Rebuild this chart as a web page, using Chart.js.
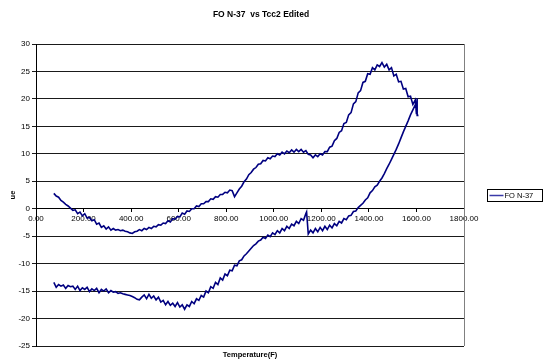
<!DOCTYPE html>
<html>
<head>
<meta charset="utf-8">
<script src="https://cdn.jsdelivr.net/npm/chart.js@4"></script>
<style>
  html, body { margin: 0; padding: 0; background: #fff; }
  #wrap { width: 544px; height: 364px; }
</style>
</head>
<body>
<div id="wrap"><canvas id="myChart" width="544" height="364"></canvas></div>
<script>
let chartTitle = 'FO N-37  vs Tcc2 Edited';
let seriesName = 'FO N-37';
let xTitle = 'Temperature(F)';
let yTitle = 'ue';

// lower branch, read left to right (step in ue at ~1137 F)
let lowerTemp = [75, 85, 95, 105, 115, 125, 135, 145, 155, 165, 175, 185, 195, 205, 215, 225, 235, 245, 255, 265,
  275, 285, 295, 305, 315, 325, 335, 345, 355, 365, 375, 385, 395, 405, 415, 425, 435, 445, 455, 465,
  475, 485, 495, 505, 515, 525, 535, 545, 555, 565, 575, 585, 595, 605, 615, 625, 635, 645, 655, 665,
  675, 685, 695, 705, 715, 725, 735, 745, 755, 765, 775, 785, 795, 805, 815, 825, 835, 845, 855, 865,
  875, 885, 895, 905, 915, 925, 935, 945, 955, 965, 975, 985, 995, 1005, 1015, 1025, 1035, 1045, 1055, 1065,
  1075, 1085, 1095, 1105, 1115, 1125, 1135, 1138, 1145, 1155, 1165, 1175, 1185, 1195, 1205, 1215, 1225, 1235, 1245, 1255,
  1265, 1275, 1285, 1295, 1305, 1315, 1325, 1335, 1345, 1355, 1365, 1375, 1385, 1395, 1405, 1415, 1425, 1435, 1445, 1455,
  1465, 1475, 1485, 1495, 1505, 1515, 1525, 1535, 1545, 1555, 1565, 1575, 1585, 1595];
let lowerUe = [-13.4, -14.3, -13.8, -14.1, -13.9, -14.5, -14.0, -14.2, -14.1, -14.7, -14.1, -14.9, -14.4, -14.7, -14.3, -15.1, -14.6, -14.9, -14.5, -15.3,
  -14.7, -15.0, -14.6, -15.3, -14.9, -15.2, -15.1, -15.4, -15.3, -15.5, -15.6, -15.7, -15.8, -16.0, -16.2, -16.5, -16.6, -16.1, -15.7, -16.4,
  -15.6, -16.3, -15.9, -16.6, -16.1, -17.0, -16.7, -17.5, -16.9, -17.6, -17.2, -17.8, -17.1, -17.9, -17.5, -18.3, -17.5, -17.8, -16.9, -17.3,
  -16.4, -16.7, -15.8, -16.1, -15.0, -15.3, -14.2, -14.5, -13.4, -13.8, -12.6, -13.0, -11.9, -12.2, -11.2, -11.3, -10.3, -10.4, -9.5, -9.3,
  -8.6, -8.2, -7.7, -7.2, -6.7, -6.4, -5.9, -5.7, -5.2, -5.4, -4.8, -5.1, -4.4, -4.7, -4.0, -4.4, -3.6, -4.0, -3.2, -3.6,
  -2.8, -3.1, -2.3, -2.7, -1.8, -2.1, -0.9, -0.6, -4.6, -3.9, -4.4, -3.6, -4.2, -3.4, -4.0, -3.2, -3.8, -3.0, -3.5, -2.7,
  -3.1, -2.3, -2.6, -1.8, -2.0, -1.3, -1.2, -0.5, -0.4, 0.2, 0.6, 1.0, 1.6, 2.0, 2.9, 3.3, 4.0, 4.3, 5.0, 5.6,
  6.4, 7.3, 8.1, 9.0, 9.9, 10.8, 11.8, 12.9, 14.0, 15.0, 16.0, 17.1, 18.0, 18.9, 19.6];

// upper branch, read right to left from the turn near 1600 F
let upperTemp = [1605, 1603, 1600, 1595, 1585, 1575, 1565, 1555, 1545, 1535, 1525, 1515, 1505, 1495, 1485, 1475, 1465, 1455, 1445, 1435,
  1425, 1415, 1405, 1395, 1385, 1375, 1365, 1355, 1345, 1335, 1325, 1315, 1305, 1295, 1285, 1275, 1265, 1255, 1245, 1235,
  1225, 1215, 1205, 1195, 1185, 1175, 1165, 1155, 1145, 1135, 1125, 1115, 1105, 1095, 1085, 1075, 1065, 1055, 1045, 1035,
  1025, 1015, 1005, 995, 985, 975, 965, 955, 945, 935, 925, 915, 905, 895, 885, 875, 865, 855, 845, 835,
  825, 815, 805, 795, 785, 775, 765, 755, 745, 735, 725, 715, 705, 695, 685, 675, 665, 655, 645, 635,
  625, 615, 605, 595, 585, 575, 565, 555, 545, 535, 525, 515, 505, 495, 485, 475, 465, 455, 445, 435,
  425, 415, 405, 395, 385, 375, 365, 355, 345, 335, 325, 315, 305, 295, 285, 275, 265, 255, 245, 235,
  225, 215, 205, 195, 185, 175, 165, 155, 145, 135, 125, 115, 105, 95, 85, 75];
let upperUe = [17.0, 20.1, 17.2, 19.8, 19.0, 20.5, 20.4, 21.9, 21.8, 23.2, 23.1, 24.5, 24.2, 25.7, 25.3, 26.3, 25.8, 26.6, 25.9, 26.2,
  25.3, 25.7, 24.5, 24.6, 23.2, 23.0, 21.5, 21.1, 19.5, 19.1, 17.5, 17.1, 15.7, 15.5, 14.2, 13.9, 12.8, 12.4, 11.4, 11.2,
  10.4, 10.4, 9.8, 10.0, 9.5, 9.8, 9.3, 9.8, 9.9, 10.6, 10.3, 10.8, 10.4, 10.8, 10.3, 10.7, 10.2, 10.5, 10.0, 10.3,
  9.8, 10.0, 9.5, 9.6, 9.1, 9.3, 8.7, 8.8, 8.2, 8.1, 7.5, 7.2, 6.6, 6.2, 5.4, 4.9, 4.1, 3.6, 2.9, 2.2,
  3.3, 3.4, 2.9, 3.0, 2.6, 2.6, 2.1, 2.2, 1.7, 1.8, 1.3, 1.3, 0.9, 0.9, 0.4, 0.5, 0.0, 0.0, -0.5, -0.4,
  -1.0, -0.8, -1.5, -1.4, -1.9, -1.8, -2.4, -2.2, -2.7, -2.6, -3.0, -2.9, -3.3, -3.2, -3.6, -3.4, -3.8, -3.6, -4.0, -3.8,
  -4.1, -4.2, -4.5, -4.4, -4.2, -4.1, -3.9, -4.0, -3.8, -3.9, -3.6, -3.9, -3.3, -3.7, -3.1, -3.4, -2.6, -2.8, -2.0, -2.2,
  -1.6, -1.7, -0.9, -1.3, -0.6, -0.9, -0.2, -0.3, 0.1, 0.5, 0.8, 1.2, 1.5, 2.1, 2.3, 2.8];

let xTicks = [0, 200, 400, 600, 800, 1000, 1200, 1400, 1600, 1800];
let yTicks = [-25, -20, -15, -10, -5, 0, 5, 10, 15, 20, 25, 30];

let points = [];
lowerTemp.forEach((t, i) => points.push({ x: t, y: lowerUe[i] }));
upperTemp.forEach((t, i) => points.push({ x: t, y: upperUe[i] }));

let lineColor = '#000080';
let fontFamily = '"Liberation Sans", Arial, sans-serif';

// title, bottom axis title, boxed legend and the grey right edge of the plot
let excelDecor = {
  id: 'excelDecor',
  beforeDatasetsDraw(chart) {
    let { ctx, chartArea } = chart;
    ctx.save();
    ctx.strokeStyle = '#808080';
    ctx.lineWidth = 1;
    ctx.beginPath();
    ctx.moveTo(Math.round(chartArea.right) + 0.5, chartArea.top);
    ctx.lineTo(Math.round(chartArea.right) + 0.5, chartArea.bottom);
    ctx.stroke();
    ctx.restore();
  },
  afterDraw(chart) {
    let { ctx, chartArea } = chart;
    ctx.save();
    ctx.fillStyle = '#000';
    ctx.textAlign = 'center';
    ctx.textBaseline = 'middle';
    ctx.font = 'bold 8.5px ' + fontFamily;
    ctx.fillText(chartTitle, 261, 15);
    ctx.font = 'bold 7.5px ' + fontFamily;
    ctx.fillText(xTitle, (chartArea.left + chartArea.right) / 2, 355);

    // legend
    let lx = 487.5, ly = 189.5, lw = 55, lh = 12;
    ctx.strokeStyle = '#000';
    ctx.lineWidth = 1;
    ctx.strokeRect(lx, ly, lw, lh);
    ctx.strokeStyle = '#3a3aa8';
    ctx.lineWidth = 1.5;
    ctx.beginPath();
    ctx.moveTo(lx + 2, ly + lh / 2);
    ctx.lineTo(lx + 16, ly + lh / 2);
    ctx.stroke();
    ctx.font = '7.5px ' + fontFamily;
    ctx.textAlign = 'left';
    ctx.fillText(seriesName, lx + 17, ly + lh / 2 + 0.5);
    ctx.restore();
  }
};

let ctx = document.getElementById('myChart').getContext('2d');

let myChart = new Chart(ctx, {
  type: 'scatter',
  data: {
    datasets: [{
      label: seriesName,
      data: points,
      showLine: true,
      borderColor: lineColor,
      backgroundColor: lineColor,
      borderWidth: 1.6,
      pointRadius: 0,
      tension: 0
    }]
  },
  options: {
    responsive: false,
    animation: false,
    layout: { padding: { top: 44, right: 80, bottom: 18, left: 0 } },
    plugins: {
      legend: { display: false },
      tooltip: { enabled: false }
    },
    scales: {
      x: {
        type: 'linear',
        position: { y: 0 },
        min: 0,
        max: 1800,
        afterBuildTicks: (scale) => { scale.ticks = xTicks.map(v => ({ value: v })); },
        ticks: {
          color: '#000',
          font: { family: fontFamily, size: 8 },
          padding: 2,
          maxRotation: 0,
          autoSkip: false,
          callback: (value) => Number(value).toFixed(2)
        },
        grid: { drawOnChartArea: false, color: '#000', tickLength: 3 },
        border: { color: '#000', width: 1 }
      },
      y: {
        type: 'linear',
        position: 'left',
        min: -25,
        max: 30,
        afterBuildTicks: (scale) => { scale.ticks = yTicks.map(v => ({ value: v })); },
        afterFit: (scale) => { scale.width = 36; },
        title: {
          display: true,
          text: yTitle,
          color: '#000',
          font: { family: fontFamily, size: 7.5, weight: 'bold' },
          padding: { top: 8, bottom: 0 }
        },
        ticks: {
          color: '#000',
          font: { family: fontFamily, size: 8 },
          padding: 2
        },
        grid: { color: '#1a1a1a', lineWidth: 1, tickLength: 4 },
        border: { color: '#000', width: 1 }
      }
    }
  },
  plugins: [excelDecor]
});
</script>
</body>
</html>
